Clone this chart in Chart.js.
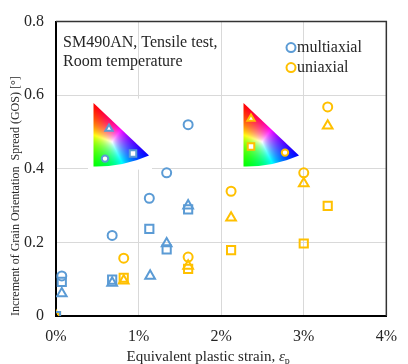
<!DOCTYPE html>
<html>
<head>
<meta charset="utf-8">
<script src="https://cdn.jsdelivr.net/npm/chart.js@4"></script>
<style>
  html, body { margin: 0; padding: 0; background: #fff; }
  #chart { display: block; }
</style>
</head>
<body>
<canvas id="chart" width="408" height="364"></canvas>
<script>
// Datos
const xTickLabels = ['0%', '1%', '2%', '3%', '4%'];
const yTickLabels = ['0', '0.2', '0.4', '0.6', '0.8'];
const annotationLines = ['SM490AN, Tensile test,', 'Room temperature'];

// multiaxial
const multiCircleX = [0.07, 0.68, 1.13, 1.34, 1.60];
const multiCircleY = [0.109, 0.219, 0.32, 0.389, 0.52];
const multiSquareX = [0, 0.07, 0.68, 1.13, 1.34, 1.60];
const multiSquareY = [0, 0.093, 0.099, 0.237, 0.181, 0.29];
const multiTriangleX = [0.07, 0.68, 1.14, 1.34, 1.60];
const multiTriangleY = [0.061, 0.09, 0.109, 0.197, 0.30];

// uniaxial
const uniCircleX = [0.82, 1.60, 2.12, 3.00, 3.29];
const uniCircleY = [0.157, 0.16, 0.339, 0.389, 0.568];
const uniSquareX = [0, 0.82, 1.60, 2.12, 3.00, 3.29];
const uniSquareY = [0, 0.104, 0.128, 0.179, 0.197, 0.299];
const uniTriangleX = [0, 0.82, 1.60, 2.12, 3.00, 3.29];
const uniTriangleY = [0, 0.096, 0.136, 0.267, 0.36, 0.517];

const BLUE = '#5b9bd5';
const ORANGE = '#ffc000';
const FONT = "'Liberation Serif', 'Times New Roman', serif";
const TEXT = '#262626';

const toPoints = (xs, ys) => xs.map((x, i) => ({ x, y: ys[i] }));
const RADIUS = { circle: 4.5, rect: 5.8, triangle: 5.6 };

function makeDataset(label, xs, ys, color, style) {
    return {
        label,
        data: toPoints(xs, ys),
        pointStyle: style,
        pointRadius: RADIUS[style],
        pointBorderWidth: 2,
        borderColor: color,
        backgroundColor: 'transparent',
        pointBackgroundColor: 'transparent'
    };
}

const datasets = [
    makeDataset('multiaxial', multiCircleX, multiCircleY, BLUE, 'circle'),
    makeDataset('multiaxial square', multiSquareX, multiSquareY, BLUE, 'rect'),
    makeDataset('multiaxial triangle', multiTriangleX, multiTriangleY, BLUE, 'triangle'),
    makeDataset('uniaxial', uniCircleX, uniCircleY, ORANGE, 'circle'),
    makeDataset('uniaxial square', uniSquareX, uniSquareY, ORANGE, 'rect'),
    makeDataset('uniaxial triangle', uniTriangleX, uniTriangleY, ORANGE, 'triangle')
];

// Marcadores pequeños
function drawMarker(ctx, style, x, y, r, color, fill) {
    ctx.save();
    ctx.beginPath();
    if (style === 'circle') {
        ctx.arc(x, y, r, 0, Math.PI * 2);
    } else if (style === 'rect') {
        const s = r * Math.SQRT1_2;
        ctx.rect(x - s, y - s, 2 * s, 2 * s);
    } else {
        for (let k = 0; k < 3; k++) {
            const a = k * 2 * Math.PI / 3;
            const px = x + Math.sin(a) * r, py = y - Math.cos(a) * r;
            k ? ctx.lineTo(px, py) : ctx.moveTo(px, py);
        }
        ctx.closePath();
    }
    if (fill) { ctx.fillStyle = fill; ctx.fill(); }
    ctx.strokeStyle = color;
    ctx.lineWidth = 2;
    ctx.stroke();
    ctx.restore();
}

// Mapa de color IPF
const IPF_W = 58, IPF_H = 66;
const ipfA = [0.5, 0.5], ipfB = [0.5, 64], ipfC = [56, 53];
let ipfCanvas = null;
function getIpfCanvas() {
    if (ipfCanvas) return ipfCanvas;
    ipfCanvas = document.createElement('canvas');
    ipfCanvas.width = IPF_W;
    ipfCanvas.height = IPF_H;
    const c = ipfCanvas.getContext('2d');
    const img = c.createImageData(IPF_W, IPF_H);
    const [ax, ay] = ipfA, [bx, by] = ipfB, [cx, cy] = ipfC;
    const det = (by - cy) * (ax - cx) + (cx - bx) * (ay - cy);
    for (let j = 0; j < IPF_H; j++) {
        for (let i = 0; i < IPF_W; i++) {
            const px = i + 0.5, py = j + 0.5;
            let wa = ((by - cy) * (px - cx) + (cx - bx) * (py - cy)) / det;
            let wb = ((cy - ay) * (px - cx) + (ax - cx) * (py - cy)) / det;
            let wc = 1 - wa - wb;
            wa = Math.max(0, wa); wb = Math.max(0, wb); wc = Math.max(0, wc);
            const m = Math.max(wa, wb, wc) || 1;
            const o = (j * IPF_W + i) * 4;
            img.data[o] = 255 * wa / m;
            img.data[o + 1] = 255 * wb / m;
            img.data[o + 2] = 255 * wc / m;
            img.data[o + 3] = 255;
        }
    }
    c.putImageData(img, 0, 0);
    return ipfCanvas;
}

function drawIpf(ctx, ox, oy, markers, color) {
    ctx.save();
    ctx.translate(ox, oy);
    ctx.beginPath();
    ctx.moveTo(ipfA[0], ipfA[1]);
    ctx.lineTo(ipfC[0], ipfC[1]);
    ctx.quadraticCurveTo(30, 64.5, ipfB[0], ipfB[1]);
    ctx.closePath();
    ctx.save();
    ctx.clip();
    ctx.drawImage(getIpfCanvas(), 0, 0);
    ctx.restore();
    markers.forEach(m => drawMarker(ctx, m.style, m.x, m.y, m.r, color, '#fff'));
    ctx.restore();
}

const insetMulti = [
    { style: 'triangle', x: 16, y: 26, r: 4.2 },
    { style: 'rect', x: 40, y: 51, r: 4.6 },
    { style: 'circle', x: 12, y: 56, r: 3.2 }
];
const insetUni = [
    { style: 'triangle', x: 8, y: 16, r: 4.2 },
    { style: 'rect', x: 8, y: 44, r: 4.6 },
    { style: 'circle', x: 42, y: 50, r: 3.2 }
];

const decorPlugin = {
    id: 'decor',
    beforeDatasetsDraw(chart) {
        const { ctx, chartArea: a } = chart;
        // fondo blanco del recuadro insertado
        ctx.save();
        ctx.fillStyle = '#fff';
        ctx.fillRect(a.left + 32, a.top + 77, 64, 71);
        ctx.restore();
        drawIpf(ctx, a.left + 37, a.top + 81, insetMulti, BLUE);
        drawIpf(ctx, a.left + 187, a.top + 81, insetUni, ORANGE);
    },
    afterDraw(chart) {
        const { ctx, chartArea: a } = chart;
        ctx.save();
        // marco superior y derecho
        ctx.strokeStyle = '#333';
        ctx.lineWidth = 1.5;
        ctx.beginPath();
        ctx.moveTo(a.left, a.top);
        ctx.lineTo(a.right, a.top);
        ctx.lineTo(a.right, a.bottom);
        ctx.stroke();

        // anotación
        ctx.fillStyle = TEXT;
        ctx.font = `16px ${FONT}`;
        ctx.textAlign = 'left';
        ctx.textBaseline = 'middle';
        annotationLines.forEach((t, i) => ctx.fillText(t, a.left + 7, a.top + 21 + i * 19));

        // leyenda
        const legendItems = [datasets[0], datasets[3]];
        legendItems.forEach((ds, i) => {
            const y = a.top + 26 + i * 20;
            drawMarker(ctx, 'circle', a.left + 235, y, 4.5, ds.borderColor, null);
            ctx.fillStyle = TEXT;
            ctx.font = `16px ${FONT}`;
            ctx.fillText(ds.label, a.left + 241, y);
        });

        // título del eje x con subíndice
        const main = 'Equivalent plastic strain, ';
        ctx.font = `15px ${FONT}`;
        const w1 = ctx.measureText(main).width;
        ctx.font = `italic 15px ${FONT}`;
        const w2 = ctx.measureText('ε').width;
        ctx.font = `10px ${FONT}`;
        const w3 = ctx.measureText('p').width;
        const total = w1 + w2 + w3;
        let x = (a.left + a.right) / 2 - 13 - total / 2;
        const y = 357;
        ctx.textBaseline = 'alphabetic';
        ctx.font = `15px ${FONT}`;
        ctx.fillText(main, x, y + 4);
        x += w1;
        ctx.font = `italic 15px ${FONT}`;
        ctx.fillText('ε', x, y + 4);
        x += w2;
        ctx.font = `10px ${FONT}`;
        ctx.fillText('p', x, y + 7);
        ctx.restore();
    }
};

new Chart(document.getElementById('chart'), {
    type: 'scatter',
    data: { datasets },
    options: {
        responsive: false,
        animation: false,
        layout: { padding: { top: 16, right: 12, left: 0, bottom: 0 } },
        scales: {
            x: {
                type: 'linear',
                min: 0,
                max: 4,
                afterFit: (s) => { s.height = 48; },
                ticks: {
                    stepSize: 1,
                    padding: 11,
                    color: TEXT,
                    font: { family: FONT, size: 16 },
                    callback: (v, i) => xTickLabels[i]
                },
                grid: { color: '#d9d9d9', lineWidth: 1, drawTicks: false },
                border: { color: '#000', width: 2 }
            },
            y: {
                min: 0,
                max: 0.8,
                afterFit: (s) => { s.width = 56; },
                ticks: {
                    stepSize: 0.2,
                    padding: 12,
                    color: TEXT,
                    font: { family: FONT, size: 16 },
                    callback: (v, i) => yTickLabels[i]
                },
                grid: { color: '#d9d9d9', lineWidth: 1, drawTicks: false },
                border: { color: '#000', width: 2 },
                title: {
                    display: true,
                    text: 'Increment of Grain Orientation  Spread (GOS) [°]',
                    align: 'start',
                    color: TEXT,
                    font: { family: FONT, size: 12 },
                    padding: { top: 9, bottom: 0 }
                }
            }
        },
        plugins: {
            legend: { display: false },
            tooltip: { enabled: false }
        }
    },
    plugins: [decorPlugin]
});
</script>
</body>
</html>
